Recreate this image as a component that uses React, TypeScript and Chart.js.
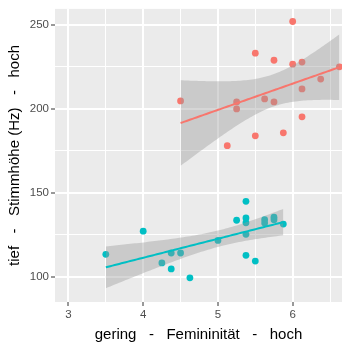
import { useEffect, useRef } from 'react';
import { Chart, registerables } from 'chart.js';

Chart.register(...registerables);

// Red group (upper cluster)
const redX = [4.5, 5.125, 5.25, 5.25, 5.5, 5.5, 5.625, 5.75, 5.75, 5.875, 6.0, 6.0, 6.125, 6.125, 6.125, 6.375, 6.625];
const redY = [204.8, 178.1, 204.2, 200.0, 233.2, 184.0, 206.0, 204.2, 229.0, 185.8, 252.1, 226.7, 227.9, 211.9, 195.3, 217.8, 225.1];

// Blue group (lower cluster)
const blueX = [3.5, 4.0, 4.25, 4.375, 4.375, 4.5, 4.625, 5.0, 5.25, 5.375, 5.375, 5.375, 5.375, 5.375, 5.5, 5.625, 5.625, 5.75, 5.75, 5.875];
const blueY = [113.4, 127.2, 108.3, 114.2, 104.7, 114.2, 99.4, 121.7, 133.7, 145.0, 135.1, 132.2, 125.3, 112.8, 109.4, 134.0, 132.0, 135.5, 134.0, 131.4];

const xTickValues = [3, 3.5, 4, 4.5, 5, 5.5, 6, 6.5];
const xMajorTicks = [3, 4, 5, 6];
const yTickValues = [100, 125, 150, 175, 200, 225, 250];
const yMajorTicks = [100, 150, 200, 250];

const xTitle = 'gering   -   Femininität   -   hoch';
const yTitle = 'tief   -   Stimmhöhe (Hz)   -   hoch';

const RED = '#F8766D';
const BLUE = '#00BFC4';

function tQuantile975(df: number) {
  const z = 1.959964;
  const z3 = z ** 3, z5 = z ** 5, z7 = z ** 7;
  return z + (z3 + z) / (4 * df) + (5 * z5 + 16 * z3 + 3 * z) / (96 * df * df) +
    (3 * z7 + 19 * z5 + 17 * z3 - 15 * z) / (384 * df ** 3);
}

function smooth(xs: number[], ys: number[]) {
  const n = xs.length;
  const xbar = xs.reduce((a, b) => a + b, 0) / n;
  const ybar = ys.reduce((a, b) => a + b, 0) / n;
  let sxx = 0, sxy = 0;
  for (let i = 0; i < n; i++) {
    sxx += (xs[i] - xbar) ** 2;
    sxy += (xs[i] - xbar) * (ys[i] - ybar);
  }
  const b = sxy / sxx;
  const a = ybar - b * xbar;
  let sse = 0;
  for (let i = 0; i < n; i++) sse += (ys[i] - a - b * xs[i]) ** 2;
  const s = Math.sqrt(sse / (n - 2));
  const t = tQuantile975(n - 2);
  const lo = Math.min(...xs), hi = Math.max(...xs);
  const fit: { x: number; y: number }[] = [];
  const upper: { x: number; y: number }[] = [];
  const lower: { x: number; y: number }[] = [];
  const steps = 80;
  for (let k = 0; k <= steps; k++) {
    const x = lo + (hi - lo) * k / steps;
    const yh = a + b * x;
    const se = s * Math.sqrt(1 / n + (x - xbar) ** 2 / sxx);
    fit.push({ x, y: yh });
    upper.push({ x, y: yh + t * se });
    lower.push({ x, y: yh - t * se });
  }
  return { fit, upper, lower };
}

const panelBg = {
  id: 'panelBg',
  beforeDraw(chart: any) {
    const { ctx, chartArea } = chart;
    ctx.save();
    ctx.fillStyle = '#EBEBEB';
    ctx.fillRect(chartArea.left, chartArea.top, chartArea.right - chartArea.left, chartArea.bottom - chartArea.top);
    ctx.restore();
  },
};

export default function App() {
  const ref = useRef<HTMLCanvasElement | null>(null);
  useEffect(() => {
    if (!ref.current) return;
    const red = smooth(redX, redY);
    const blue = smooth(blueX, blueY);
    const pts = (xs: number[], ys: number[]) => xs.map((x, i) => ({ x, y: ys[i] }));
    const band = 'rgba(153,153,153,0.4)';
    const chart = new Chart(ref.current, {
      type: 'scatter',
      data: {
        datasets: [
          { data: pts(redX, redY), backgroundColor: RED, borderWidth: 0, pointRadius: 3.4, order: 10 } as any,
          { data: pts(blueX, blueY), backgroundColor: BLUE, borderWidth: 0, pointRadius: 3.4, order: 10 } as any,
          { data: red.upper, showLine: true, pointRadius: 0, borderWidth: 0, borderColor: 'rgba(0,0,0,0)', backgroundColor: band, fill: '+1', order: 5 } as any,
          { data: red.lower, showLine: true, pointRadius: 0, borderWidth: 0, borderColor: 'rgba(0,0,0,0)', fill: false, order: 5 } as any,
          { data: blue.upper, showLine: true, pointRadius: 0, borderWidth: 0, borderColor: 'rgba(0,0,0,0)', backgroundColor: band, fill: '+1', order: 5 } as any,
          { data: blue.lower, showLine: true, pointRadius: 0, borderWidth: 0, borderColor: 'rgba(0,0,0,0)', fill: false, order: 5 } as any,
          { data: red.fit, showLine: true, pointRadius: 0, borderWidth: 2, borderColor: RED, fill: false, order: 1 } as any,
          { data: blue.fit, showLine: true, pointRadius: 0, borderWidth: 2, borderColor: BLUE, fill: false, order: 1 } as any,
        ],
      },
      options: {
        animation: false,
        responsive: false,
        layout: { padding: { top: 7, right: 8, left: 0, bottom: 0 } },
        plugins: { legend: { display: false }, tooltip: { enabled: false } },
        scales: {
          x: {
            type: 'linear',
            min: 2.82,
            max: 6.66,
            afterBuildTicks: (scale: any) => { scale.ticks = xTickValues.map((v) => ({ value: v })); },
            afterFit: (scale: any) => { scale.height = 48; },
            border: { display: false },
            grid: {
              color: '#FFFFFF',
              lineWidth: (ctx: any) => (xMajorTicks.includes(ctx.tick?.value) ? 2 : 1),
              tickColor: (ctx: any) => (xMajorTicks.includes(ctx.tick?.value) ? '#333333' : 'rgba(0,0,0,0)'),
              tickWidth: 1,
              tickLength: 4,
            },
            ticks: {
              autoSkip: false,
              maxRotation: 0,
              padding: 2,
              color: '#4D4D4D',
              font: { family: 'Liberation Sans', size: 11.5 },
              callback: (v: any) => (xMajorTicks.includes(Number(v)) ? String(v) : ''),
            },
            title: {
              display: true,
              text: xTitle,
              color: '#000000',
              font: { family: 'Liberation Sans', size: 15 },
              padding: { top: 2, bottom: 6 },
            },
          },
          y: {
            type: 'linear',
            min: 85,
            max: 259.6,
            afterBuildTicks: (scale: any) => { scale.ticks = yTickValues.map((v) => ({ value: v })); },
            afterFit: (scale: any) => { scale.width = 55; },
            border: { display: false },
            grid: {
              color: '#FFFFFF',
              lineWidth: (ctx: any) => (yMajorTicks.includes(ctx.tick?.value) ? 2 : 1),
              tickColor: (ctx: any) => (yMajorTicks.includes(ctx.tick?.value) ? '#333333' : 'rgba(0,0,0,0)'),
              tickWidth: 1,
              tickLength: 4,
            },
            ticks: {
              autoSkip: false,
              padding: 2,
              color: '#4D4D4D',
              font: { family: 'Liberation Sans', size: 11.5 },
              callback: (v: any) => (yMajorTicks.includes(Number(v)) ? String(v) : ''),
            },
            title: {
              display: true,
              text: yTitle,
              color: '#000000',
              font: { family: 'Liberation Sans', size: 15 },
              padding: { top: 6, bottom: 2 },
            },
          },
        },
      },
      plugins: [panelBg],
    });
    return () => chart.destroy();
  }, []);
  return (
    <div style={{ position: 'absolute', left: 0, top: 0, width: 350, height: 350, background: '#FFFFFF' }}>
      <canvas ref={ref} width={350} height={350} style={{ display: 'block', width: 350, height: 350 }} />
    </div>
  );
}
